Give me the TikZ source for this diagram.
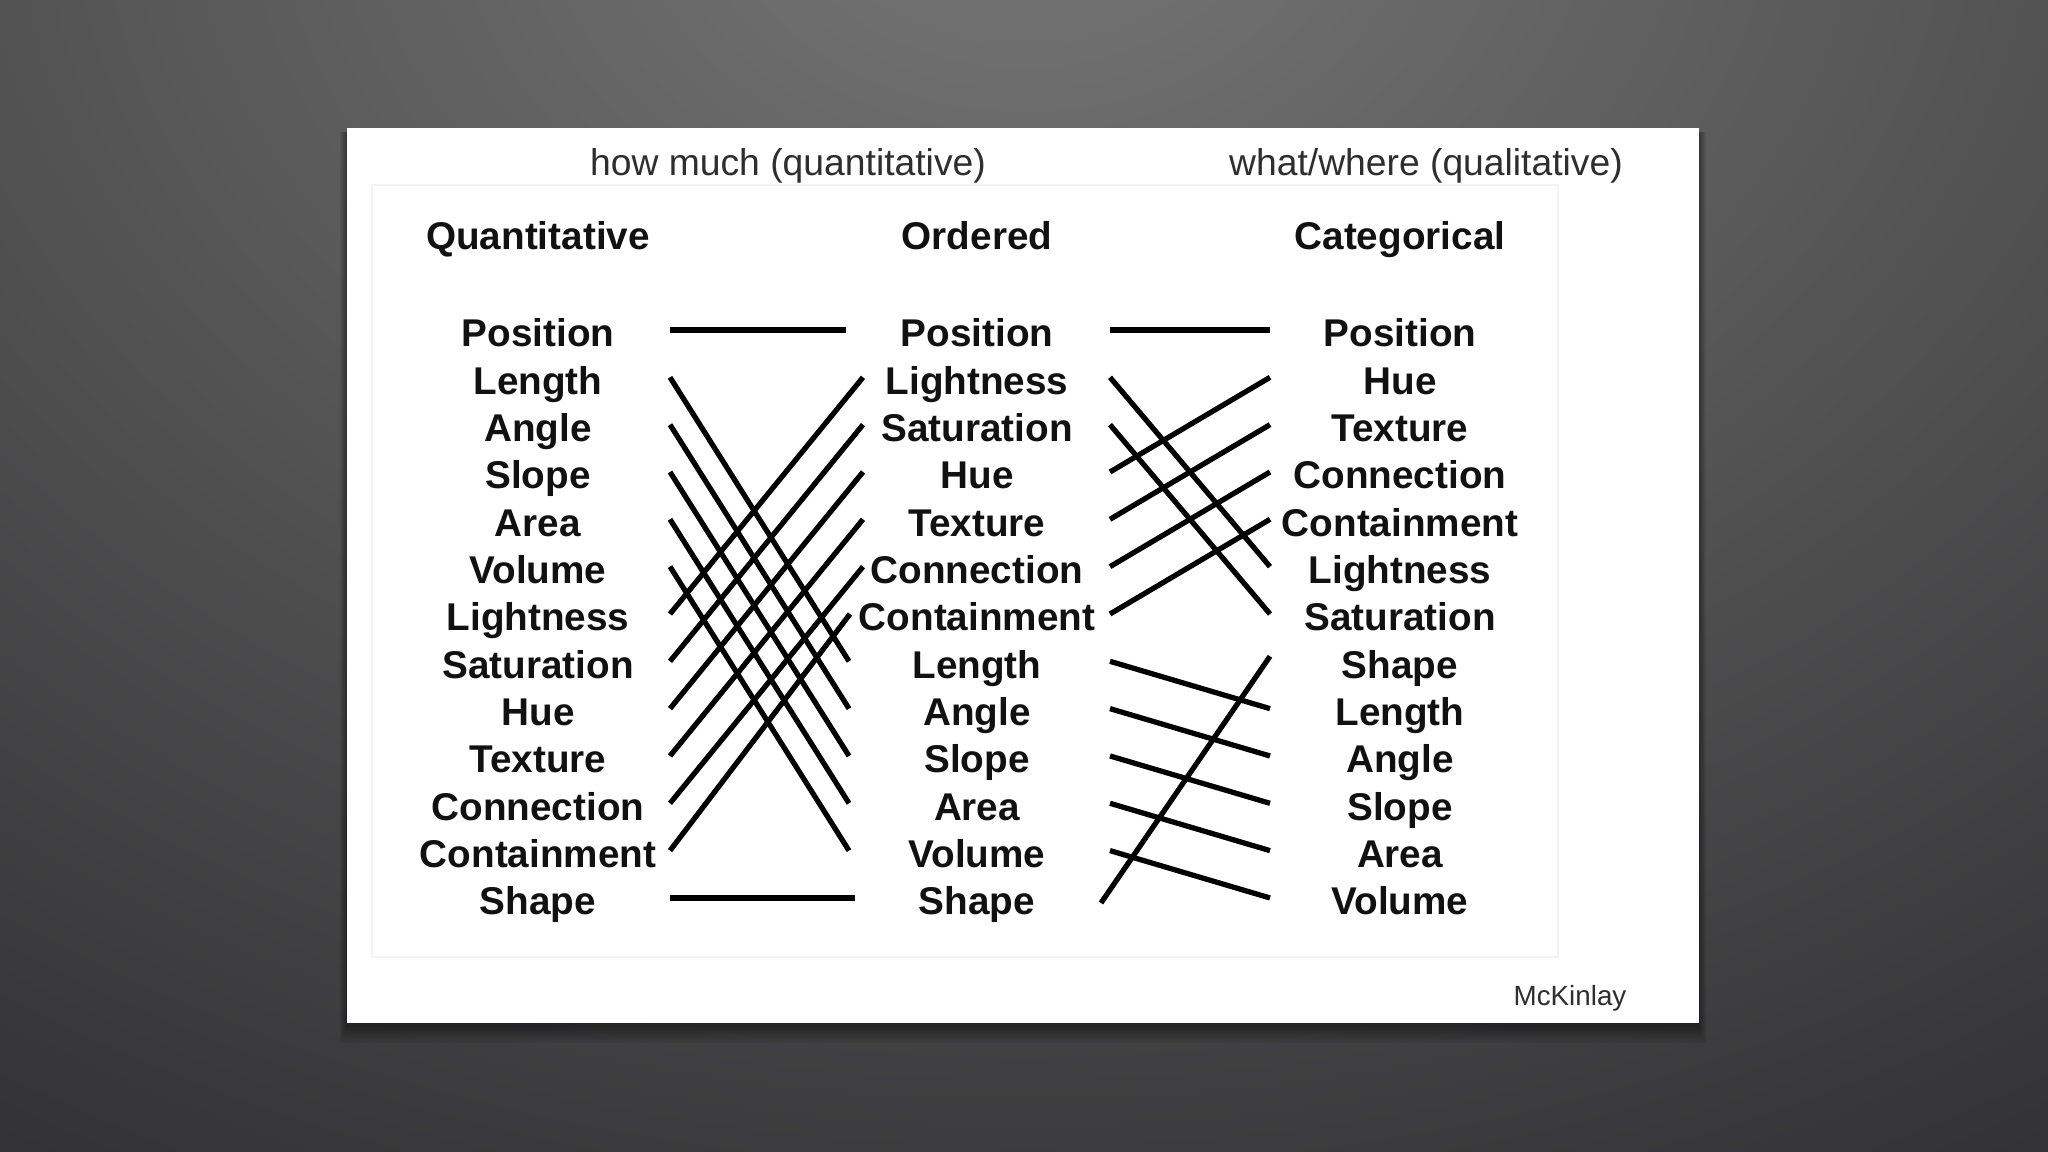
\documentclass[tikz,border=0pt]{standalone}
\usepackage{fontspec}
\setmainfont{Liberation Sans}
\definecolor{bgtop}{HTML}{767676}
\definecolor{bgdark}{HTML}{2B2B2D}
\definecolor{labcol}{HTML}{111111}
\definecolor{headcol}{HTML}{2E2E2E}
\definecolor{framecol}{HTML}{F3F3F3}
\tikzset{
  lab/.style={anchor=base, inner sep=0pt, text=labcol, font=\fontsize{11}{13}\selectfont\bfseries},
  head/.style={anchor=base, inner sep=0pt, text=headcol, font=\fontsize{10.6}{13}\selectfont},
  credit/.style={anchor=base, inner sep=0pt, text=headcol, font=\fontsize{7.9}{9}\selectfont},
  link/.style={line width=1.5pt, black, line cap=butt}
}
\begin{document}
\begin{tikzpicture}[x=0.01cm, y=-0.01cm]
\useasboundingbox (0,0) rectangle (2048,1152);
% background
\fill[bgdark] (0,0) rectangle (2048,1152);
\begin{scope}
  \clip (0,0) rectangle (2048,1152);
  \shade[inner color=bgtop, outer color=bgdark] (1024,-120) ellipse [x radius=2200, y radius=1650];
\end{scope}
% card shadow
\foreach \k in {1,...,12} {
  \fill[black, opacity=0.035] (347-\k*0.6, 128+4) rectangle (1699+\k*0.6, 1023+2+\k*1.5);
}
% card
\fill[white] (347,128) rectangle (1699,1023);
\draw[framecol, line width=0.8pt] (372,185) rectangle (1558,957);
% top headers
\node[head] (hq) at (788,176) {how much (quantitative)};
\node[head] (hw) at (1426,176) {what/where (qualitative)};
\node[credit] (mk) at (1570,1005) {McKinlay};
% column titles
\node[lab] (tq) at (538,250) {Quantitative};
\node[lab] (to) at (977,250) {Ordered};
\node[lab] (tc) at (1400,250) {Categorical};
% rows
\foreach \t [count=\i from 0] in {Position,Length,Angle,Slope,Area,Volume,Lightness,Saturation,Hue,Texture,Connection,Containment,Shape} {
  \pgfmathsetmacro\yy{347+47.33*\i}
  \node[lab] (q\i) at (538,\yy) {\t};
}
\foreach \t [count=\i from 0] in {Position,Lightness,Saturation,Hue,Texture,Connection,Containment,Length,Angle,Slope,Area,Volume,Shape} {
  \pgfmathsetmacro\yy{347+47.33*\i}
  \node[lab] (o\i) at (977,\yy) {\t};
}
\foreach \t [count=\i from 0] in {Position,Hue,Texture,Connection,Containment,Lightness,Saturation,Shape,Length,Angle,Slope,Area,Volume} {
  \pgfmathsetmacro\yy{347+47.33*\i}
  \node[lab] (c\i) at (1400,\yy) {\t};
}
% line end coordinates
\foreach \i in {0,...,12} {
  \pgfmathsetmacro\yy{330+47.33*\i}
  \coordinate (QL\i) at (670,\yy);
  \coordinate (OL\i) at (1110,\yy);
  \coordinate (CR\i) at (1270,\yy);
}
\foreach \i in {1,...,5} {
  \pgfmathsetmacro\yy{330+47.33*\i}
  \coordinate (OR\i) at (863,\yy);
}
\foreach \i in {7,...,11} {
  \pgfmathsetmacro\yy{330+47.33*\i}
  \coordinate (OR\i) at (849,\yy);
}
\coordinate (OR0) at (846,330);
\coordinate (OR6) at (850,{330+47.33*6});
\coordinate (OR12) at (855,{330+47.33*12});
\coordinate (OL12) at (1101,{335+47.33*12});
\coordinate (CR7) at (1270,{325+47.33*7});
% connectors quantitative -> ordered
\foreach \i/\j in {0/0,1/7,2/8,3/9,4/10,5/11,6/1,7/2,8/3,9/4,10/5,11/6,12/12} {
  \draw[link] (QL\i) -- (OR\j);
}
% connectors ordered -> categorical
\foreach \i/\j in {0/0,1/5,2/6,3/1,4/2,5/3,6/4,7/8,8/9,9/10,10/11,11/12,12/7} {
  \draw[link] (OL\i) -- (CR\j);
}
\end{tikzpicture}
\end{document}
